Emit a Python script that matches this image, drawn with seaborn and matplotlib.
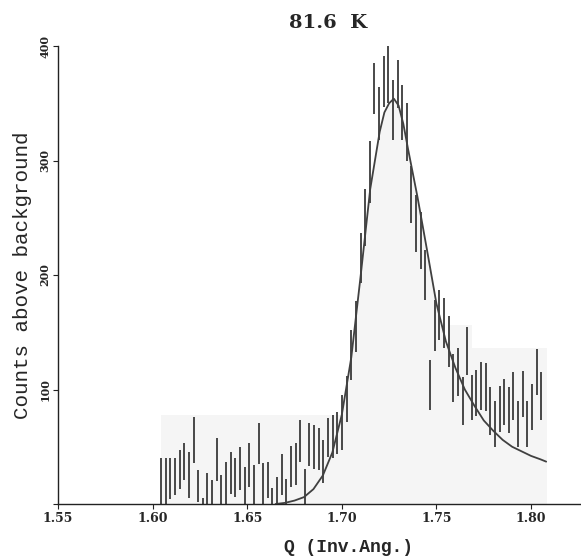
import numpy as np
import pandas as pd
import matplotlib
matplotlib.use("Agg")
import matplotlib.pyplot as plt
import seaborn as sns

# measured points (Q in inverse Angstrom, counts above background, error)
q = [1.6045, 1.6070, 1.6094, 1.6119, 1.6143, 1.6168, 1.6192, 1.6217, 1.6241, 1.6266,
     1.6290, 1.6315, 1.6339, 1.6364, 1.6388, 1.6413, 1.6437, 1.6462, 1.6486, 1.6511,
     1.6535, 1.6560, 1.6584, 1.6609, 1.6633, 1.6658, 1.6682, 1.6707, 1.6731, 1.6756,
     1.6780, 1.6805, 1.6829, 1.6854, 1.6878, 1.6903, 1.6927, 1.6952, 1.6976, 1.7001,
     1.7025, 1.7050, 1.7074, 1.7099, 1.7123, 1.7148, 1.7172, 1.7197, 1.7221, 1.7246,
     1.7270, 1.7295, 1.7319, 1.7344, 1.7368, 1.7393, 1.7417, 1.7442, 1.7466, 1.7491,
     1.7515, 1.7540, 1.7564, 1.7589, 1.7613, 1.7638, 1.7662, 1.7687, 1.7711, 1.7736,
     1.7760, 1.7785, 1.7809, 1.7834, 1.7858, 1.7883, 1.7907, 1.7932, 1.7956, 1.7981,
     1.8005, 1.8030, 1.8054]
counts = [15, 18, 22, 24, 30, 37, 25, 56, 16, -12,
          8, 2, 39, 6, 15, 27, 23, 31, 13, 34,
          14, 53, 16, 21, -3, 6, 26, 4, 33, 35,
          55, 12, 52, 50, 48, 37, 58, 59, 62, 71,
          92, 130, 155, 215, 250, 290, 363, 341, 369, 375,
          344, 367, 342, 325, 270, 245, 230, 200, 104, 156,
          165, 158, 142, 110, 115, 90, 134, 93, 97, 103,
          102, 81, 70, 83, 89, 82, 94, 70, 96, 70,
          85, 115, 94]
err = [25, 22, 18, 16, 17, 16, 20, 20, 14, 17,
       19, 19, 19, 19, 22, 18, 17, 19, 19, 19,
       20, 18, 20, 16, 17, 18, 18, 18, 18, 18,
       18, 19, 19, 19, 18, 19, 17, 19, 18, 24,
       20, 22, 22, 22, 25, 27, 22, 23, 22, 25,
       26, 21, 24, 25, 25, 25, 25, 22, 22, 22,
       22, 22, 22, 21, 21, 21, 21, 20, 20, 21,
       21, 21, 20, 20, 20, 20, 21, 20, 20, 20,
       20, 20, 21]

# fitted peak
fit_q = [1.665, 1.670, 1.675, 1.680, 1.685, 1.690, 1.695, 1.700, 1.705, 1.710,
         1.715, 1.720, 1.7225, 1.725, 1.7275, 1.730, 1.7325, 1.735, 1.740, 1.745,
         1.750, 1.755, 1.760, 1.765, 1.770, 1.775, 1.780, 1.785, 1.790, 1.795,
         1.800, 1.805, 1.808]
fit_y = [0, 1, 3, 6, 13, 25, 45, 78, 128, 200,
         275, 325, 342, 350, 354, 348, 332, 310, 268, 222,
         175, 142, 119, 100, 86, 73, 64, 56, 50, 46,
         42, 39, 37]

# light grey background blocks
block_q = [1.6045, 1.757, 1.769, 1.8085]
block_h = [78, 156, 136, 136]

xticks = [1.55, 1.60, 1.65, 1.70, 1.75, 1.80]
yticks = [0, 100, 200, 300, 400]

sns.set_style("ticks")
fig = plt.figure(figsize=(5.81, 5.57), dpi=100)
ax = fig.add_axes([58 / 581, 53 / 557, 523 / 581, 458 / 557])

shade = "#f5f5f5"
ax.fill_between(block_q, block_h, step="post", color=shade, lw=0)
ax.fill_between(fit_q, fit_y, color=shade, lw=0)

ax.errorbar(q, counts, yerr=err, fmt="none", ecolor="#3a3a3a",
            elinewidth=1.3, capsize=0)
fit = pd.DataFrame({"Q": fit_q, "counts": fit_y})
sns.lineplot(data=fit, x="Q", y="counts", ax=ax, color="#404040", lw=1.3)

ax.set_xlim(1.55, 1.8264)
ax.set_ylim(0, 400)
sns.despine(ax=ax)
for s in ["left", "bottom"]:
    ax.spines[s].set_linewidth(1.0)
    ax.spines[s].set_color("#222222")

ax.set_xticks(xticks)
ax.set_xticklabels([f"{t:.2f}" for t in xticks], fontsize=9,
                   fontweight="bold", family="DejaVu Serif")
ax.set_yticks(yticks)
ax.set_yticklabels([""] + [str(t) for t in yticks[1:]], rotation=90,
                   va="center", fontsize=8, fontweight="bold",
                   family="DejaVu Serif")
ax.tick_params(direction="out", length=3.5, width=0.8, pad=2, color="#222222")

ax.set_xlabel("Q (Inv.Ang.)", fontsize=13, fontweight="bold",
              family="Liberation Mono")
ax.xaxis.set_label_coords(0.556, -0.076)
ax.set_ylabel("Counts above background", fontsize=15,
              family="Liberation Mono")
ax.yaxis.set_label_coords(-0.05, 0.5)

fig.text(328 / 581, 1 - 23 / 557, "81.6  K", ha="center", va="center",
         fontsize=14, fontweight="bold", family="DejaVu Serif")

fig.savefig("out.png", dpi=100)
